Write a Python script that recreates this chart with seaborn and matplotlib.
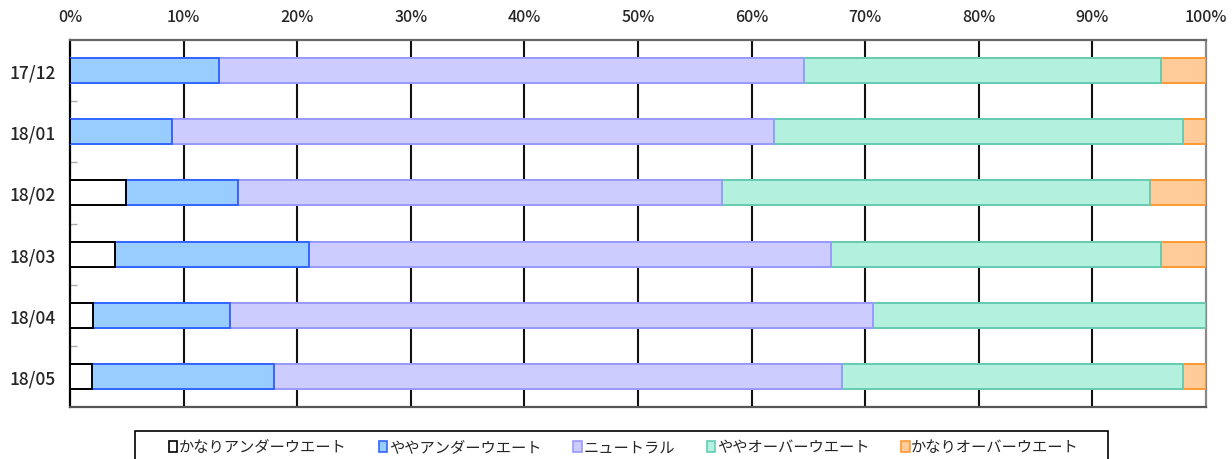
import numpy as np
import pandas as pd
import matplotlib
matplotlib.use("Agg")
import matplotlib.pyplot as plt
from matplotlib.patches import Patch, Rectangle
from matplotlib.ticker import FuncFormatter, FixedLocator
import seaborn as sns

# Monthly survey: share of responses per position (percent)
months = ["17/12", "18/01", "18/02", "18/03", "18/04", "18/05"]
series_names = ["かなりアンダーウエート", "ややアンダーウエート", "ニュートラル",
                "ややオーバーウエート", "かなりオーバーウエート"]
much_under = [0.0, 0.0, 4.9, 4.0, 2.0, 1.9]
some_under = [13.1, 9.0, 9.9, 17.0, 12.1, 16.1]
neutral = [51.5, 53.0, 42.6, 46.0, 56.6, 50.0]
some_over = [31.4, 36.0, 37.7, 29.0, 29.3, 30.0]
much_over = [4.0, 2.0, 4.9, 4.0, 0.0, 2.0]

fills = ["#FFFFFF", "#99CCFF", "#CCCCFF", "#B3F0DE", "#FFCC99"]
edges = ["#000000", "#3366FF", "#9999FF", "#66CCB3", "#FF9933"]

sns.set_theme(style="white")
plt.rcParams["font.family"] = ["Noto Sans CJK JP", "DejaVu Sans"]

values = np.array([much_under, some_under, neutral, some_over, much_over])
cum = np.cumsum(values, axis=0)

W, H = 1232, 460
fig = plt.figure(figsize=(W / 100, H / 100), dpi=100)
ax = fig.add_axes([70 / W, 1 - 408 / H, 1136 / W, 367 / H])

# Stacked bars: draw cumulative totals from the outermost series inward
for i in range(len(series_names) - 1, -1, -1):
    df = pd.DataFrame({"month": months, "value": cum[i]})
    sns.barplot(data=df, x="value", y="month", orient="h", color=fills[i],
                saturation=1, edgecolor=edges[i], linewidth=1.4, width=0.41,
                ax=ax, zorder=3)

ax.set_xlim(0, 100)
ax.set_ylim(len(months) - 0.5, -0.5)
ax.set_xlabel("")
ax.set_ylabel("")

ax.xaxis.tick_top()
ax.set_xticks(np.arange(0, 101, 10))
ax.xaxis.set_major_formatter(FuncFormatter(lambda v, p: f"{int(v)}%"))
ax.tick_params(axis="x", length=0, pad=11, labelsize=11.5)
ax.tick_params(axis="y", which="major", length=0, pad=10, labelsize=12.5)
for lbl in ax.get_xticklabels() + ax.get_yticklabels():
    lbl.set_fontweight("medium")
ax.yaxis.set_minor_locator(FixedLocator(np.arange(0.5, len(months) - 1, 1.0)))
ax.tick_params(axis="y", which="minor", direction="in", length=5,
               width=1, color="#AAAAAA", left=True)

ax.grid(False)
for v in range(10, 100, 10):
    ax.axvline(v, color="#111111", linewidth=1.5, zorder=1)

ax.spines["left"].set_color("#000000")
ax.spines["left"].set_linewidth(1.6)
ax.spines["top"].set_color("#666666")
ax.spines["top"].set_linewidth(1.6)
ax.spines["right"].set_color("#888888")
ax.spines["right"].set_linewidth(1.6)
ax.spines["bottom"].set_color("#555555")
ax.spines["bottom"].set_linewidth(1.6)
ax.set_facecolor("white")

# Legend box running off the bottom edge of the figure
fig.patches.append(Rectangle((135 / W, -0.05), (1108 - 135) / W, 0.05 + (460 - 432) / H,
                             transform=fig.transFigure, facecolor="white",
                             edgecolor="#000000", linewidth=1.2, zorder=0))

handles = [Patch(facecolor=f, edgecolor=e, linewidth=1.2) for f, e in zip(fills, edges)]
leg = fig.legend(handles, series_names, loc="center",
                 bbox_to_anchor=(624 / W, 1 - 448 / H), ncol=5,
                 frameon=False, fontsize=11,
                 handlelength=0.55, handleheight=0.75, handletextpad=0.1,
                 columnspacing=2.1, borderpad=0.0, borderaxespad=0)

fig.savefig("out.png", dpi=100, facecolor="white")
